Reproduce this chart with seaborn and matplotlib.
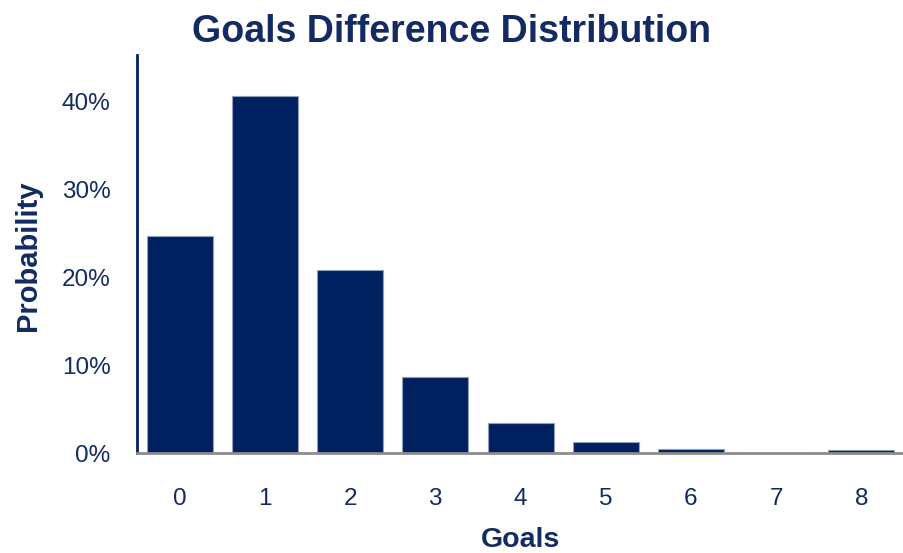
import matplotlib
matplotlib.use("Agg")
import matplotlib.pyplot as plt
from matplotlib.ticker import FuncFormatter
import seaborn as sns
import pandas as pd

# Goal difference outcomes and their probabilities
goals = ["0", "1", "2", "3", "4", "5", "6", "7", "8"]
probability = [0.247, 0.406, 0.208, 0.087, 0.0345, 0.012, 0.005, 0.0005, 0.003]
y_ticks = [0.0, 0.1, 0.2, 0.3, 0.4]

navy = "#002060"
text_color = "#132A62"

sns.set_theme(style="white")
plt.rcParams["font.family"] = ["Liberation Sans", "DejaVu Sans"]

df = pd.DataFrame({"Goals": goals, "Probability": probability})

fig = plt.figure(figsize=(9.04, 5.53), dpi=100)
ax = fig.add_axes([0.1516, 0.1808, 0.8484, 0.7197])

sns.barplot(data=df, x="Goals", y="Probability", color=navy, saturation=1,
            width=0.775, edgecolor="#8FA0BE", linewidth=0.8, ax=ax)

ax.set_xlim(-0.5, 8.5)
ax.set_ylim(0, 0.453)
ax.set_yticks(y_ticks)
ax.yaxis.set_major_formatter(FuncFormatter(lambda v, _: f"{v * 100:.0f}%"))

ax.tick_params(axis="both", length=0, labelsize=17.5, labelcolor=text_color)
ax.tick_params(axis="y", pad=19)
ax.tick_params(axis="x", pad=25)

for side in ("top", "right"):
    ax.spines[side].set_visible(False)
ax.spines["left"].set_color(navy)
ax.spines["left"].set_linewidth(2)
ax.spines["bottom"].set_color("#8C8C8C")
ax.spines["bottom"].set_linewidth(2)

ax.set_xlabel("Goals", fontsize=20.5, fontweight="bold", color=text_color)
ax.set_ylabel("Probability", fontsize=21, fontweight="bold", color=text_color)
ax.xaxis.set_label_coords(0.5, -0.186)
ax.yaxis.set_label_coords(-0.124, 0.497)

fig.text(0.5, 0.942, "Goals Difference Distribution", ha="center", va="center",
         fontsize=27, fontweight="bold", color=text_color)

fig.savefig("out.png", dpi=100)
